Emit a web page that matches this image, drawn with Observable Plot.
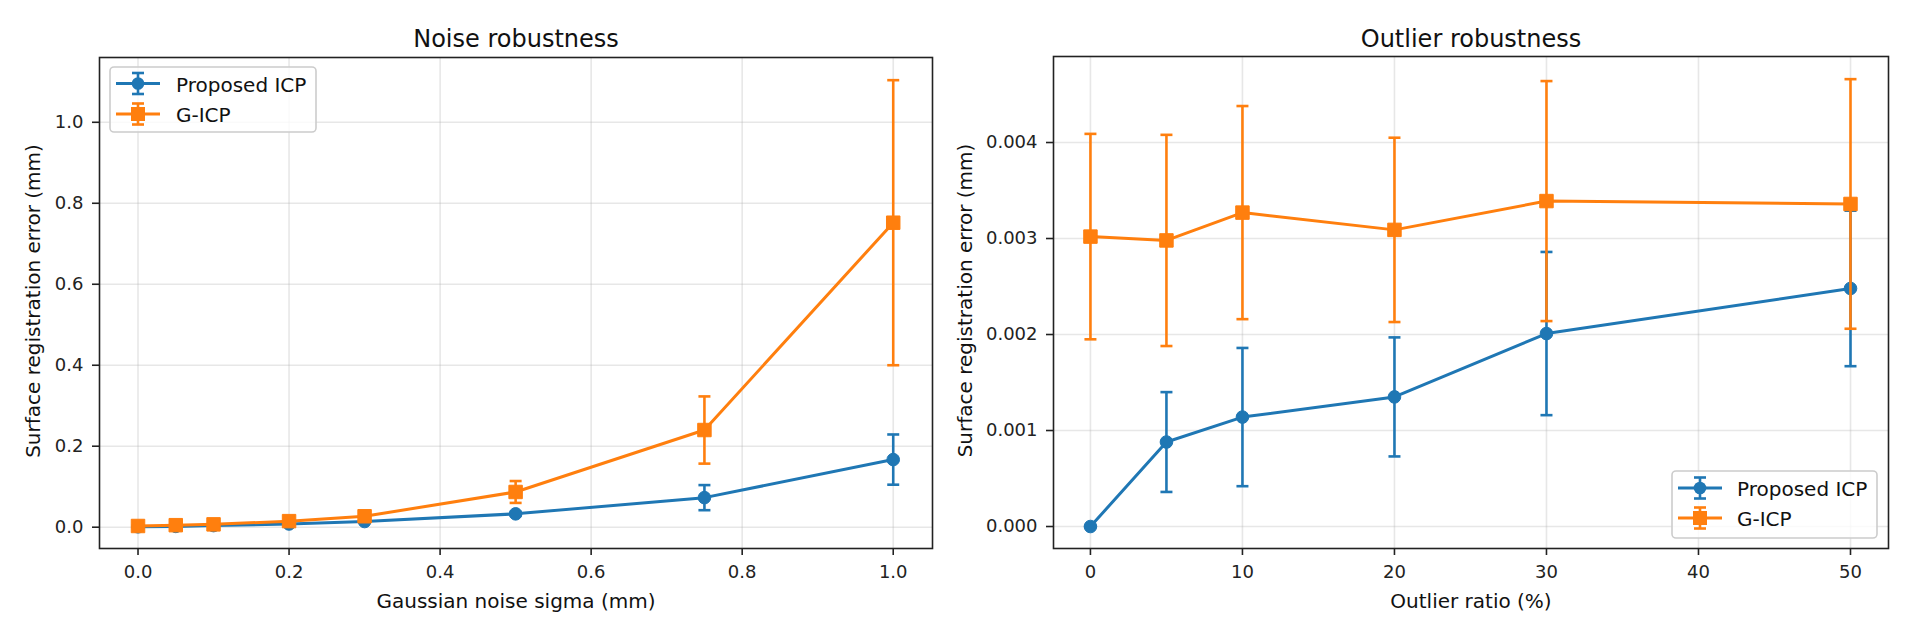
<!DOCTYPE html>
<html>
<head>
<meta charset="utf-8">
<script src="https://cdn.jsdelivr.net/npm/d3@7"></script>
<script src="https://cdn.jsdelivr.net/npm/@observablehq/plot@0.6"></script>
<style>
  html, body { margin: 0; padding: 0; background: #fff; }
  #root { position: relative; width: 1912px; height: 635px; overflow: hidden; font-family: "DejaVu Sans", sans-serif; }
  #root > div { position: absolute; top: 0; }
  svg { overflow: visible; }
</style>
</head>
<body>
<div id="root"><div id="left" style="left:0px"></div><div id="right" style="left:950px"></div></div>
<script>
// ---- Data: Noise robustness ----
const noiseSigma = [0, 0.05, 0.1, 0.2, 0.3, 0.5, 0.75, 1.0];
const noiseProposedMean = [0.001, 0.002, 0.004, 0.008, 0.014, 0.033, 0.073, 0.167];
const noiseProposedStd  = [0.0005, 0.001, 0.001, 0.002, 0.003, 0.005, 0.031, 0.062];
const noiseGicpMean = [0.003, 0.005, 0.007, 0.015, 0.027, 0.087, 0.240, 0.752];
const noiseGicpStd  = [0.001, 0.002, 0.003, 0.005, 0.006, 0.027, 0.083, 0.352];

// ---- Data: Outlier robustness ----
const outlierRatio = [0, 5, 10, 20, 30, 50];
const outlierProposedMean = [0.0, 0.00088, 0.00114, 0.00135, 0.00201, 0.00248];
const outlierProposedStd  = [0.0, 0.00052, 0.00072, 0.00062, 0.00085, 0.00081];
const outlierGicpMean = [0.00302, 0.00298, 0.00327, 0.00309, 0.00339, 0.00336];
const outlierGicpStd  = [0.00107, 0.00110, 0.00111, 0.00096, 0.00125, 0.00130];

const seriesNames = ["Proposed ICP", "G-ICP"];
const seriesColors = ["#1f77b4", "#ff7f0e"];

const noiseXTicks = [0, 0.2, 0.4, 0.6, 0.8, 1.0];
const noiseYTicks = [0, 0.2, 0.4, 0.6, 0.8, 1.0];
const outlierXTicks = [0, 10, 20, 30, 40, 50];
const outlierYTicks = [0, 0.001, 0.002, 0.003, 0.004];

const FONT = "DejaVu Sans";
const capSymbol = { draw(ctx, size) { const w = 6; ctx.moveTo(-w, 0); ctx.lineTo(w, 0); } };

function rows(xs, means, stds) {
  return xs.map((x, i) => ({ x, y: means[i], lo: means[i] - stds[i], hi: means[i] + stds[i] }));
}

function seriesMarks(data, color, symbol, r) {
  return [
    Plot.ruleX(data, { x: "x", y1: "lo", y2: "hi", stroke: color, strokeWidth: 2.6 }),
    Plot.dot(data, { x: "x", y: "lo", symbol: capSymbol, r: 1, stroke: color, strokeWidth: 2.6, fill: "none" }),
    Plot.dot(data, { x: "x", y: "hi", symbol: capSymbol, r: 1, stroke: color, strokeWidth: 2.6, fill: "none" }),
    Plot.line(data, { x: "x", y: "y", stroke: color, strokeWidth: 3 }),
    Plot.dot(data, { x: "x", y: "y", symbol, r, fill: color, stroke: color, strokeWidth: 1 })
  ];
}

function panel(cfg) {
  const s1 = rows(cfg.xs, cfg.m1, cfg.s1);
  const s2 = rows(cfg.xs, cfg.m2, cfg.s2);
  return Plot.plot({
    width: cfg.width, height: 635,
    marginLeft: cfg.ml, marginRight: cfg.mr, marginTop: cfg.mt, marginBottom: 87,
    style: { fontFamily: FONT, background: "white", color: "#222" },
    x: { domain: cfg.xDomain, label: null },
    y: { domain: cfg.yDomain, label: null },
    marks: [
      Plot.gridX(cfg.xTicks, { stroke: "#b0b0b0", strokeOpacity: 0.3, strokeWidth: 1.6 }),
      Plot.gridY(cfg.yTicks, { stroke: "#b0b0b0", strokeOpacity: 0.3, strokeWidth: 1.6 }),
      Plot.axisX(cfg.xTicks, { tickSize: 7, tickPadding: 10, fontSize: 18, strokeWidth: 1.6, tickFormat: cfg.xFmt, label: null }),
      Plot.axisY(cfg.yTicks, { tickSize: 7, tickPadding: 9, fontSize: 18, strokeWidth: 1.6, tickFormat: cfg.yFmt, label: null }),
      ...seriesMarks(s1, seriesColors[0], "circle", 6.3),
      ...seriesMarks(s2, seriesColors[1], "square", 7.6),
      Plot.frame({ stroke: "#222", strokeWidth: 1.6 }),
      Plot.text([cfg.title], { frameAnchor: "top", lineAnchor: "bottom", dy: 46 - cfg.mt, fontSize: 24, fill: "#111" }),
      Plot.text([cfg.xLabel], { frameAnchor: "bottom", lineAnchor: "bottom", dy: 59, fontSize: 20, fill: "#111" }),
      Plot.text([cfg.yLabel], { frameAnchor: "left", rotate: -90, lineAnchor: "middle", textAnchor: "middle", dx: cfg.yLabelDx, dy: -2, fontSize: 20, fill: "#111" })
    ]
  });
}

function addLegend(svg, box) {
  const g = d3.select(svg).append("g").attr("font-family", FONT).attr("text-anchor", "start");
  g.append("rect").attr("x", box.x).attr("y", box.y).attr("width", box.w).attr("height", box.h)
    .attr("rx", 4).attr("fill", "white").attr("fill-opacity", 0.8).attr("stroke", "#cccccc").attr("stroke-width", 1.6);
  seriesNames.forEach((name, i) => {
    const cy = box.rows[i];
    const cx = box.sx;
    const c = seriesColors[i];
    g.append("line").attr("x1", cx - 22).attr("x2", cx + 22).attr("y1", cy).attr("y2", cy).attr("stroke", c).attr("stroke-width", 3);
    g.append("line").attr("x1", cx).attr("x2", cx).attr("y1", cy - 10.5).attr("y2", cy + 10.5).attr("stroke", c).attr("stroke-width", 2.6);
    [-10.5, 10.5].forEach(d => g.append("line").attr("x1", cx - 6).attr("x2", cx + 6).attr("y1", cy + d).attr("y2", cy + d).attr("stroke", c).attr("stroke-width", 2.6));
    if (i === 0) g.append("circle").attr("cx", cx).attr("cy", cy).attr("r", 6.3).attr("fill", c);
    else g.append("rect").attr("x", cx - 7).attr("y", cy - 7).attr("width", 14).attr("height", 14).attr("fill", c);
    g.append("text").attr("x", box.tx).attr("y", cy + 8).attr("font-size", 20).attr("fill", "#111").attr("text-anchor", "start").text(name);
  });
}

const left = panel({
  width: 950, ml: 99, mr: 18, mt: 57,
  xs: noiseSigma, m1: noiseProposedMean, s1: noiseProposedStd, m2: noiseGicpMean, s2: noiseGicpStd,
  xDomain: [-0.051, 1.052], yDomain: [-0.0526, 1.16],
  xTicks: noiseXTicks, yTicks: noiseYTicks, xFmt: d3.format(".1f"), yFmt: d3.format(".1f"),
  title: "Noise robustness", xLabel: "Gaussian noise sigma (mm)", yLabel: "Surface registration error (mm)", yLabelDx: -66
});
document.getElementById("left").appendChild(left);
addLegend(left, { x: 110, y: 67, w: 206, h: 65, rows: [83.5, 114], sx: 138, tx: 176 });

const right = panel({
  width: 962, ml: 103, mr: 24, mt: 56,
  xs: outlierRatio, m1: outlierProposedMean, s1: outlierProposedStd, m2: outlierGicpMean, s2: outlierGicpStd,
  xDomain: [-2.43, 52.5], yDomain: [-0.000229, 0.004896],
  xTicks: outlierXTicks, yTicks: outlierYTicks, xFmt: d3.format("d"), yFmt: d3.format(".3f"),
  title: "Outlier robustness", xLabel: "Outlier ratio (%)", yLabel: "Surface registration error (mm)", yLabelDx: -88
});
document.getElementById("right").appendChild(right);
addLegend(right, { x: 1672 - 950, y: 471, w: 205, h: 67, rows: [488, 518], sx: 1700 - 950, tx: 1737 - 950 });
</script>
</body>
</html>
